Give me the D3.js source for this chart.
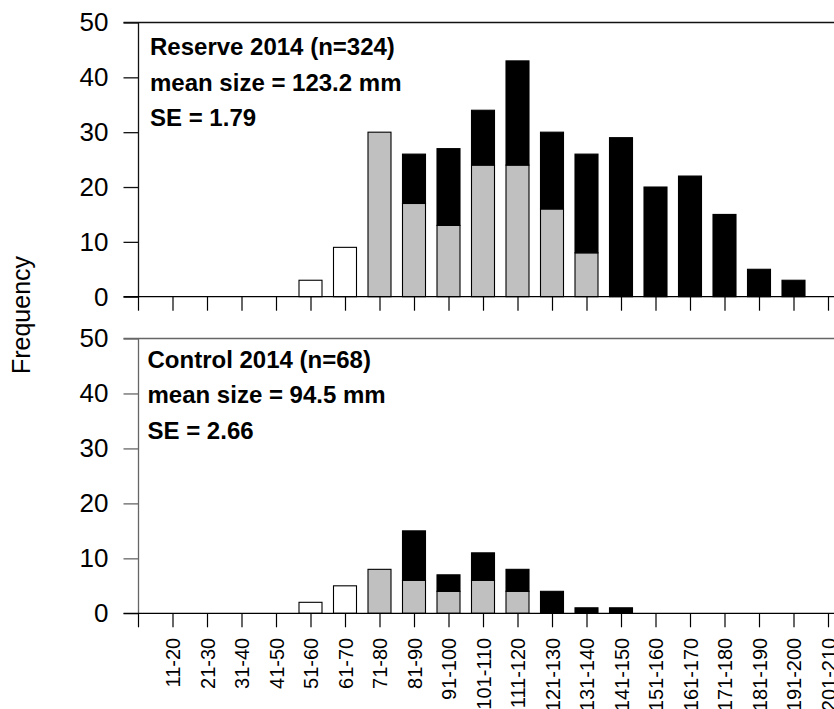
<!DOCTYPE html>
<html><head><meta charset="utf-8">
<script src="https://cdn.jsdelivr.net/npm/d3@7"></script>
<style>
body{margin:0;background:#fff}
svg{display:block}
text{font-family:"Liberation Sans",Arial,Helvetica,sans-serif}
</style>
</head><body>
<svg id="c" width="834" height="709"></svg>
<script>
const categories = ["11-20","21-30","31-40","41-50","51-60","61-70","71-80","81-90","91-100","101-110",
  "111-120","121-130","131-140","141-150","151-160","161-170","171-180","181-190","191-200","201-210"];
const reserveWhite = [0,0,0,0,3,9,0,0,0,0,0,0,0,0,0,0,0,0,0,0];
const reserveGray  = [0,0,0,0,0,0,30,17,13,24,24,16,8,0,0,0,0,0,0,0];
const reserveBlack = [0,0,0,0,0,0,0,9,14,10,19,14,18,29,20,22,15,5,3,0];
const controlWhite = [0,0,0,0,2,5,0,0,0,0,0,0,0,0,0,0,0,0,0,0];
const controlGray  = [0,0,0,0,0,0,8,6,4,6,4,0,0,0,0,0,0,0,0,0];
const controlBlack = [0,0,0,0,0,0,0,9,3,5,4,4,1,1,0,0,0,0,0,0];
const yTicks = [0,10,20,30,40,50];
const reserveText = ["Reserve 2014 (n=324)","mean size = 123.2 mm","SE = 1.79"];
const controlText = ["Control 2014 (n=68)","mean size = 94.5 mm","SE = 2.66"];
const seriesKeys = ["white","gray","black"];
const seriesFill = {white:"#ffffff", gray:"#c0c0c0", black:"#000000"};

const W = 834;
const svg = d3.select("#c");
const x = d3.scaleLinear().domain([0, categories.length]).range([138, 828]);
const barW = 23;

const panels = [
  {white:reserveWhite, gray:reserveGray, black:reserveBlack, text:reserveText,
   bottom:296.7, top:22.5, textY:55, textX:150, labels:false, frame:"#111"},
  {white:controlWhite, gray:controlGray, black:controlBlack, text:controlText,
   bottom:613.3, top:338.5, textY:367.7, textX:147.5, labels:true, frame:"#666"}
];

panels.forEach(p => {
  const g = svg.append("g");
  const y = d3.scaleLinear().domain([0,50]).range([p.bottom, p.top]);
  const rows = categories.map((c,i) => ({cat:c, i:i, white:p.white[i], gray:p.gray[i], black:p.black[i]}));
  const stacked = d3.stack().keys(seriesKeys)(rows);

  // frame line at top
  g.append("line").attr("x1", x(0)-14.5).attr("x2", W).attr("y1", y(50)).attr("y2", y(50))
    .attr("stroke", p.frame).attr("stroke-width", 1.3);

  // bars
  stacked.forEach(layer => {
    g.append("g").selectAll("rect")
      .data(layer.filter(d => d[1] > d[0]))
      .join("rect")
      .attr("x", d => x(d.data.i + 1) - barW/2)
      .attr("width", barW)
      .attr("y", d => y(d[1]))
      .attr("height", d => y(d[0]) - y(d[1]))
      .attr("fill", seriesFill[layer.key])
      .attr("stroke", "#000")
      .attr("stroke-width", 1.1);
  });

  // y axis
  const ya = g.append("g").attr("transform", `translate(${x(0)},0)`)
    .call(d3.axisLeft(y).tickValues(yTicks).tickSize(14.5).tickSizeOuter(0).tickPadding(15));
  ya.selectAll("path.domain").attr("stroke", p.frame).attr("stroke-width", 1.3);
  ya.selectAll(".tick line").attr("stroke", p.frame).attr("stroke-width", 1.3);
  ya.selectAll("text").attr("font-size", 26).attr("fill", "#000").attr("font-family", '"Liberation Sans",Arial,sans-serif');

  // x axis
  const xa = g.append("g").attr("transform", `translate(0,${y(0)})`)
    .call(d3.axisBottom(x).tickValues(d3.range(0, categories.length + 1)).tickSize(14).tickSizeOuter(0)
      .tickFormat(i => (p.labels && i > 0) ? categories[i-1] : ""));
  xa.select("path.domain").remove();
  xa.selectAll(".tick line").attr("stroke", "#000").attr("stroke-width", 1.2);
  xa.selectAll("text")
    .attr("transform", "rotate(-90)")
    .attr("text-anchor", "end")
    .attr("x", -24.5).attr("y", 0).attr("dy", "0.35em")
    .attr("font-size", 20).attr("fill", "#000")
    .attr("font-family", '"Liberation Sans",Arial,sans-serif');
  g.append("line").attr("x1", x(0)-14.5).attr("x2", W).attr("y1", y(0)).attr("y2", y(0))
    .attr("stroke", "#000").attr("stroke-width", 1.3);

  // annotation text
  g.append("g").selectAll("text").data(p.text).join("text")
    .attr("x", p.textX).attr("y", (d,i) => p.textY + i*35.5)
    .attr("font-size", 24).attr("font-weight", "bold").attr("fill", "#000")
    .text(d => d);
});

svg.append("text")
  .attr("transform", "translate(30,315) rotate(-90)")
  .attr("text-anchor", "middle")
  .attr("font-size", 25).attr("fill", "#000")
  .text("Frequency");
</script>
</body></html>
